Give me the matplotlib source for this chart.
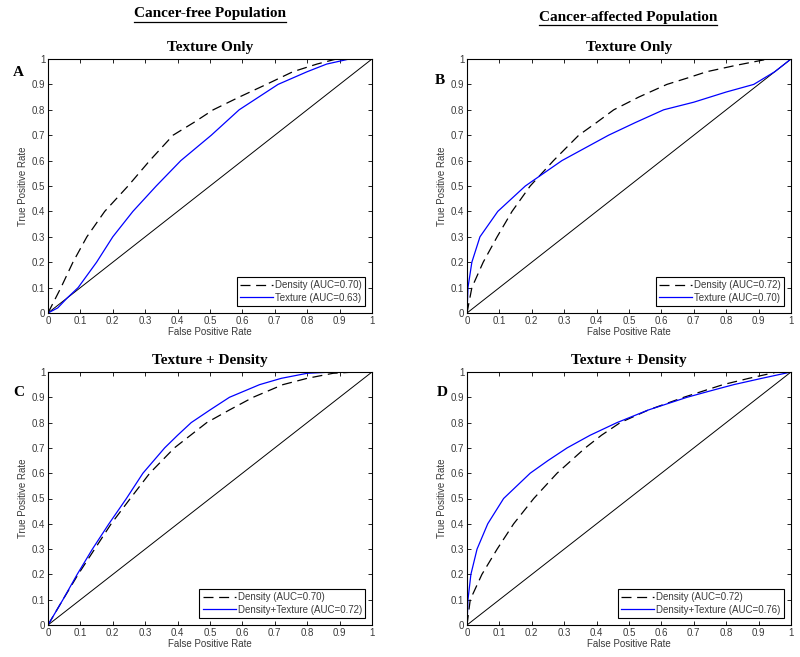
import matplotlib
matplotlib.use('Agg')
import matplotlib.pyplot as plt
import numpy as np
from matplotlib.lines import Line2D

# ROC curve points (FPR, TPR)
fpr_a_density = [0, 0.02, 0.04, 0.077, 0.12, 0.175, 0.247, 0.314, 0.386, 0.45, 0.51, 0.59, 0.674, 0.756, 0.83, 0.89, 0.95, 1.0]
tpr_a_density = [0, 0.05, 0.10, 0.20, 0.30, 0.40, 0.50, 0.60, 0.70, 0.75, 0.80, 0.85, 0.90, 0.95, 0.98, 1.0, 1.0, 1.0]
fpr_a_texture = [0, 0.03, 0.06, 0.093, 0.15, 0.20, 0.262, 0.334, 0.41, 0.504, 0.59, 0.65, 0.71, 0.80, 0.86, 0.93, 1.0]
tpr_a_texture = [0, 0.02, 0.06, 0.10, 0.20, 0.30, 0.40, 0.50, 0.60, 0.70, 0.80, 0.85, 0.90, 0.95, 0.98, 1.0, 1.0]

fpr_b_density = [0, 0.015, 0.05, 0.093, 0.139, 0.195, 0.267, 0.345, 0.40, 0.453, 0.53, 0.617, 0.68, 0.74, 0.83, 0.93, 1.0]
tpr_b_density = [0, 0.10, 0.20, 0.30, 0.40, 0.50, 0.60, 0.70, 0.75, 0.80, 0.85, 0.90, 0.925, 0.95, 0.975, 1.0, 1.0]
fpr_b_texture = [0, 0.003, 0.015, 0.04, 0.095, 0.18, 0.293, 0.437, 0.52, 0.607, 0.70, 0.80, 0.885, 0.95, 1.0]
tpr_b_texture = [0, 0.10, 0.20, 0.30, 0.40, 0.50, 0.60, 0.70, 0.75, 0.80, 0.83, 0.87, 0.90, 0.95, 1.0]

fpr_c_density = [0, 0.046, 0.093, 0.144, 0.195, 0.254, 0.314, 0.39, 0.44, 0.49, 0.56, 0.633, 0.725, 0.80, 0.88, 0.95, 1.0]
tpr_c_density = [0, 0.10, 0.20, 0.30, 0.40, 0.50, 0.60, 0.70, 0.75, 0.80, 0.85, 0.90, 0.95, 0.975, 0.995, 1.0, 1.0]
fpr_c_both = [0, 0.046, 0.09, 0.137, 0.188, 0.242, 0.293, 0.36, 0.40, 0.442, 0.50, 0.56, 0.653, 0.72, 0.80, 0.88, 1.0]
tpr_c_both = [0, 0.10, 0.20, 0.30, 0.40, 0.50, 0.60, 0.70, 0.75, 0.80, 0.85, 0.90, 0.95, 0.975, 0.995, 1.0, 1.0]

fpr_d_density = [0, 0.01, 0.046, 0.093, 0.144, 0.206, 0.278, 0.365, 0.415, 0.473, 0.56, 0.669, 0.79, 0.87, 0.957, 1.0]
tpr_d_density = [0, 0.10, 0.20, 0.30, 0.40, 0.50, 0.60, 0.70, 0.75, 0.80, 0.85, 0.90, 0.95, 0.975, 1.0, 1.0]
fpr_d_both = [0, 0.003, 0.012, 0.031, 0.064, 0.113, 0.195, 0.25, 0.309, 0.38, 0.463, 0.56, 0.679, 0.75, 0.823, 0.91, 1.0]
tpr_d_both = [0, 0.10, 0.20, 0.30, 0.40, 0.50, 0.60, 0.65, 0.70, 0.75, 0.80, 0.85, 0.90, 0.925, 0.95, 0.975, 1.0]

panels = [
    ('A', 'Texture Only', fpr_a_density, tpr_a_density, fpr_a_texture, tpr_a_texture,
     'Density (AUC=0.70)', 'Texture (AUC=0.63)'),
    ('B', 'Texture Only', fpr_b_density, tpr_b_density, fpr_b_texture, tpr_b_texture,
     'Density (AUC=0.72)', 'Texture (AUC=0.70)'),
    ('C', 'Texture + Density', fpr_c_density, tpr_c_density, fpr_c_both, tpr_c_both,
     'Density (AUC=0.70)', 'Density+Texture (AUC=0.72)'),
    ('D', 'Texture + Density', fpr_d_density, tpr_d_density, fpr_d_both, tpr_d_both,
     'Density (AUC=0.72)', 'Density+Texture (AUC=0.76)'),
]

W, H = 800, 657
fig = plt.figure(figsize=(8, 6.57), dpi=100)

# axes boxes in pixels: left, top, right, bottom
boxes = [(48, 59, 372, 313), (467, 59, 791, 313), (48, 372, 372, 625), (467, 372, 791, 625)]
letter_pos = [(13, 73), (435, 80), (13, 392), (437, 393)]

sans = 'Liberation Sans'
serif = 'Liberation Serif'
grey = '#3a3a3a'
ticks = np.round(np.arange(0, 1.01, 0.1), 1)
ticklabels = ['0'] + ['%.1f' % t for t in ticks[1:-1]] + ['1']

for (letter, title, xd, yd, xt, yt, lab_d, lab_t), box, lp in zip(panels, boxes, letter_pos):
    l, t, r, b = box
    ax = fig.add_axes([l / W, 1 - b / H, (r - l) / W, (b - t) / H])
    ax.plot([0, 1], [0, 1], color='black', lw=0.7)
    ax.plot(xd, yd, color='black', lw=0.9, dashes=(8, 4.5), label=lab_d)
    ax.plot(xt, yt, color='blue', lw=0.9, label=lab_t)
    ax.set_xlim(0, 1)
    ax.set_ylim(0, 1)
    ax.set_xticks(ticks)
    ax.set_yticks(ticks)
    ax.set_xticklabels(ticklabels, fontsize=7, family=sans, color=grey)
    ax.set_yticklabels(ticklabels, fontsize=7, family=sans, color=grey)
    ax.tick_params(direction='in', top=True, right=True, length=3, width=0.6, pad=2)
    for s in ax.spines.values():
        s.set_linewidth(0.8)
    ax.set_xlabel('False Positive Rate', fontsize=7, family=sans, color=grey, labelpad=1)
    ax.set_ylabel('True Positive Rate', fontsize=7, family=sans, color=grey, labelpad=3)
    ax.set_title(title, fontsize=11, family=serif, fontweight='bold', pad=6)
    leg = ax.legend(loc='lower right', prop={'family': sans, 'size': 7}, fancybox=False,
                    edgecolor='black', framealpha=1, borderpad=0.35, labelspacing=0.25,
                    handlelength=3.4, handletextpad=0.2, borderaxespad=0.7)
    leg.get_frame().set_linewidth(0.8)
    for txt in leg.get_texts():
        txt.set_color(grey)
    fig.text(lp[0] / W, 1 - lp[1] / H, letter, fontsize=11, family=serif, fontweight='bold',
             ha='left', va='center')

# column headers, underlined
headers = [('Cancer-free Population', 210, 14), ('Cancer-affected Population', 628, 17)]
fig.canvas.draw()
renderer = fig.canvas.get_renderer()
for text, cx, cy in headers:
    tx = fig.text(cx / W, 1 - cy / H, text, fontsize=11, family=serif, fontweight='bold',
                  ha='center', va='center')
    bb = tx.get_window_extent(renderer=renderer).transformed(fig.transFigure.inverted())
    y_line = bb.y0 - 1.5 / H
    fig.add_artist(Line2D([bb.x0, bb.x1], [y_line, y_line], transform=fig.transFigure,
                          color='black', lw=0.9))

fig.savefig('out.png', dpi=100)
